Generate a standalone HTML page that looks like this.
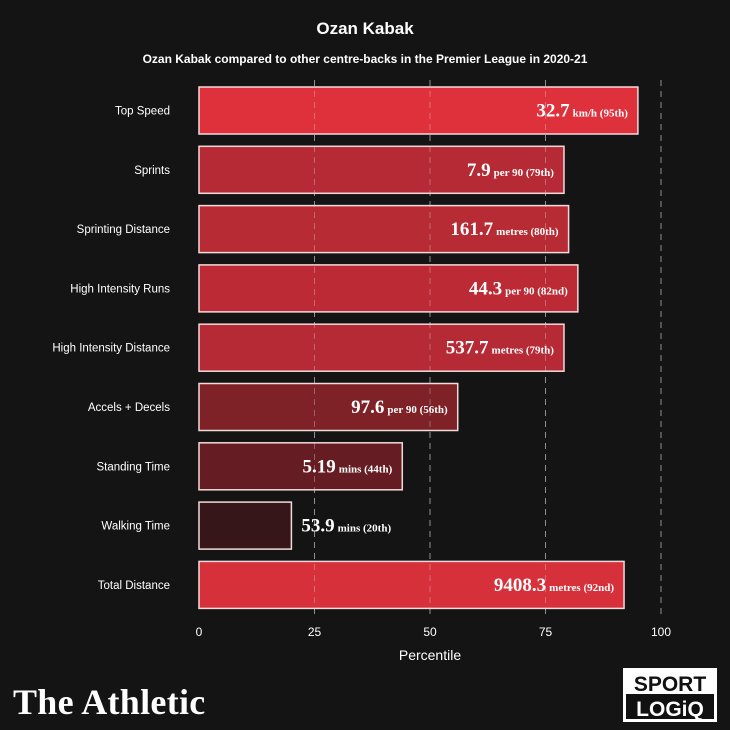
<!DOCTYPE html>
<html><head><meta charset="utf-8"><style>
html,body{margin:0;padding:0;background:#141414;}
svg{display:block;}
</style></head><body>
<svg id="chart" width="730" height="730" viewBox="0 0 730 730" xmlns="http://www.w3.org/2000/svg">
<rect x="0" y="0" width="730" height="730" fill="#141414"/>
<text x="365" y="34" text-anchor="middle" fill="#fff" font-family="Liberation Sans, sans-serif" font-weight="bold" font-size="17">Ozan Kabak</text>
<text x="365" y="63" text-anchor="middle" fill="#fff" font-family="Liberation Sans, sans-serif" font-weight="bold" font-size="12">Ozan Kabak compared to other centre-backs in the Premier League in 2020-21</text>
<g id="grid"></g>
<g id="bars"></g>
<g id="gridtop" opacity="0.35"></g>
<g id="axis"></g>
<text x="430" y="660" text-anchor="middle" fill="#fff" font-family="Liberation Sans, sans-serif" font-size="14">Percentile</text>
<text x="13" y="714" fill="#fff" font-family="Liberation Serif, serif" font-weight="bold" font-size="36" letter-spacing="0.3">The Athletic</text>
<g>
<rect x="623" y="668" width="94" height="54" fill="#fff"/>
<rect x="626" y="694" width="88" height="25" fill="#111"/>
<text x="670" y="691" text-anchor="middle" fill="#111" font-family="Liberation Sans, sans-serif" font-weight="bold" font-size="21">SPORT</text>
<text x="670" y="716" text-anchor="middle" fill="#fff" font-family="Liberation Sans, sans-serif" font-weight="bold" font-size="21">LOGiQ</text>
</g>
</svg>
<script>
const categories=["Top Speed","Sprints","Sprinting Distance","High Intensity Runs","High Intensity Distance","Accels + Decels","Standing Time","Walking Time","Total Distance"];
const percentiles=[95,79,80,82,79,56,44,20,92];
const valueLabels=["32.7","7.9","161.7","44.3","537.7","97.6","5.19","53.9","9408.3"];
const unitLabels=["km/h (95th)","per 90 (79th)","metres (80th)","per 90 (82nd)","metres (79th)","per 90 (56th)","mins (44th)","mins (20th)","metres (92nd)"];
const ticks=[0,25,50,75,100];
const NS="http://www.w3.org/2000/svg";
const x=v=>199+v*4.62;
const y=i=>87+i*59.3;
const BH=47;
function mk(t,a,p){const e=document.createElementNS(NS,t);for(const k in a)e.setAttribute(k,a[k]);p.appendChild(e);return e;}
function col(p){const t=p/100;const lo=[30,18,20],hi=[235,51,63];const s=Math.pow(t,1.3);return `rgb(${lo.map((c,i)=>Math.round(c+(hi[i]-c)*s)).join(',')})`;}
const grid=document.getElementById('grid'),gridtop=document.getElementById('gridtop'),bars=document.getElementById('bars'),axis=document.getElementById('axis');
ticks.forEach(t=>{
 if(t>0){[grid,gridtop].forEach(g=>{const l=mk('line',{x1:x(t),x2:x(t),y1:80,y2:618,stroke:g===grid?'#666':'#ddd','stroke-width':1,'stroke-dasharray':'6,5'},g);
 
 });}
 const tx=mk('text',{x:x(t),y:636,'text-anchor':'middle',fill:'#fff','font-family':'Liberation Sans, sans-serif','font-size':12},axis);
 tx.textContent=t;
 
 
});
const labels=[];
categories.forEach((c,i)=>{
 const cy=y(i)+BH/2;
 const lb=mk('text',{x:170,y:cy+4,'text-anchor':'end',fill:'#fff','font-family':'Liberation Sans, sans-serif','font-size':11.5},bars);
 lb.textContent=c;
 
 
 const r=mk('rect',{x:x(0),y:y(i),width:x(percentiles[i])-x(0),height:BH,fill:col(percentiles[i]),stroke:'#f3dada','stroke-width':1.5},bars);
 
 
 labels.push([i,cy]);
});
labels.forEach(([i,cy])=>{
 const inside=percentiles[i]>35;
 const tx=mk('text',{x:inside?x(percentiles[i])-10:x(percentiles[i])+10,y:cy+6,'text-anchor':inside?'end':'start',fill:'#fff','font-family':'Liberation Serif, serif','font-weight':'bold'},axis);
 
 
 const a=mk('tspan',{'font-size':19},tx);a.textContent=valueLabels[i];
 const b=mk('tspan',{'font-size':11,dx:3},tx);b.textContent=unitLabels[i];
});
</script>
</body></html>
